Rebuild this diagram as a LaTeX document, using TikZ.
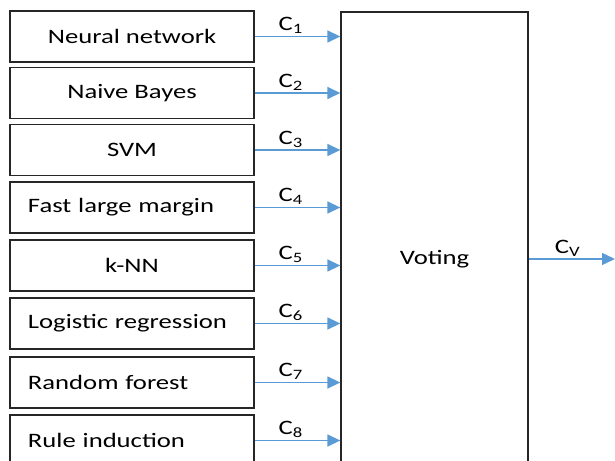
\documentclass[tikz,border=0pt]{standalone}
\usepackage{fontspec}
\setmainfont{Carlito}[FakeStretch=1.3]
\usetikzlibrary{arrows.meta}
\definecolor{arrowblue}{HTML}{5B9BD5}
\definecolor{boxline}{HTML}{262626}

\begin{document}
\begin{tikzpicture}[x=1bp,y=-1bp,
    clfbox/.style={draw=boxline, line width=1.3bp, minimum width=244bp, minimum height=51bp,
      inner sep=0pt, font=\fontsize{20.5bp}{24bp}\selectfont},
    leftbox/.style={clfbox, inner xsep=18bp, text width=208bp, align=left},
    votebox/.style={draw=boxline, line width=1.3bp, minimum width=187bp, minimum height=494bp,
      inner sep=0pt, font=\fontsize{20.5bp}{24bp}\selectfont},
    conn/.style={draw=arrowblue, line width=1.4bp, -{Triangle[length=13bp,width=12bp]}},
    clab/.style={above=1bp, inner sep=1bp, font=\fontsize{20.5bp}{24bp}\selectfont}]
  \useasboundingbox (0,0) rectangle (615,461);
  \clip (0,0) rectangle (615,461);
  % classifiers
  \node[clfbox] (nn) at (132,36.5) {Neural network};
  \node[clfbox] (nb) at (132,93) {Naive Bayes};
  \node[clfbox] (svm) at (132,150) {SVM};
  \node[leftbox] (flm) at (132,207.5) {Fast large margin};
  \node[clfbox] (knn) at (132,265.5) {k-NN};
  \node[leftbox] (lr) at (132,323.5) {Logistic regression};
  \node[leftbox] (rf) at (132,382.5) {Random forest};
  \node[leftbox] (ri) at (132,440.5) {Rule induction};
  % voting
  \node[votebox] (vote) at (434.5,259) {Voting};
  \coordinate (cvout) at (615,259);
  % outputs
  \draw[conn] (nn.east) -- (nn.east -| vote.west) node[clab,pos=0.42] {C\textsubscript{1}};
  \draw[conn] (nb.east) -- (nb.east -| vote.west) node[clab,pos=0.42] {C\textsubscript{2}};
  \draw[conn] (svm.east) -- (svm.east -| vote.west) node[clab,pos=0.42] {C\textsubscript{3}};
  \draw[conn] (flm.east) -- (flm.east -| vote.west) node[clab,pos=0.42] {C\textsubscript{4}};
  \draw[conn] (knn.east) -- (knn.east -| vote.west) node[clab,pos=0.42] {C\textsubscript{5}};
  \draw[conn] (lr.east) -- (lr.east -| vote.west) node[clab,pos=0.42] {C\textsubscript{6}};
  \draw[conn] (rf.east) -- (rf.east -| vote.west) node[clab,pos=0.42] {C\textsubscript{7}};
  \draw[conn] (ri.east) -- (ri.east -| vote.west) node[clab,pos=0.42] {C\textsubscript{8}};
  \draw[conn] (vote.east) -- (cvout) node[clab,pos=0.45] {C\textsubscript{V}};
\end{tikzpicture}
\end{document}
